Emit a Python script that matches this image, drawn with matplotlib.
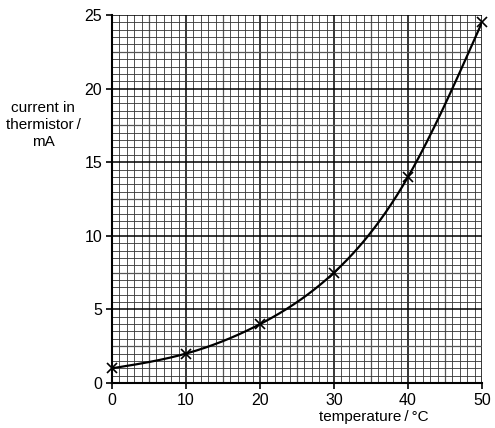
import numpy as np
import matplotlib
matplotlib.use("Agg")
import matplotlib.pyplot as plt

plt.rcParams['font.family'] = ['Liberation Sans', 'DejaVu Sans']

temperature = [0, 10, 20, 30, 40, 50]
current = [1.0, 2.0, 4.0, 7.5, 14.0, 24.5]
x_ticks = [0, 10, 20, 30, 40, 50]
y_ticks = [0, 5, 10, 15, 20, 25]


def natural_spline(xs, ys, xq):
    xs = np.asarray(xs, float); ys = np.asarray(ys, float)
    n = len(xs)
    h = np.diff(xs)
    A = np.zeros((n, n)); b = np.zeros(n)
    A[0, 0] = 1; A[-1, -1] = 1
    for i in range(1, n - 1):
        A[i, i - 1] = h[i - 1]
        A[i, i] = 2 * (h[i - 1] + h[i])
        A[i, i + 1] = h[i]
        b[i] = 3 * ((ys[i + 1] - ys[i]) / h[i] - (ys[i] - ys[i - 1]) / h[i - 1])
    c = np.linalg.solve(A, b)
    out = np.empty_like(xq)
    for k, xv in enumerate(xq):
        i = min(np.searchsorted(xs, xv, side='right') - 1, n - 2)
        i = max(i, 0)
        bb = (ys[i + 1] - ys[i]) / h[i] - h[i] * (2 * c[i] + c[i + 1]) / 3
        d = (c[i + 1] - c[i]) / (3 * h[i])
        dx = xv - xs[i]
        out[k] = ys[i] + bb * dx + c[i] * dx ** 2 + d * dx ** 3
    return out


fig = plt.figure(figsize=(4.95, 4.28), dpi=100)
ax = fig.add_axes([0.2263, 0.1051, 0.7474, 0.8599])
ax.set_xlim(0, 50)
ax.set_ylim(0, 25)

# grid
for xv in np.arange(0, 50.01, 1):
    if xv % 10 == 0:
        ax.axvline(xv, color='black', lw=1.1, zorder=1)
    elif xv % 5 == 0:
        ax.axvline(xv, color='#555555', lw=0.9, zorder=1)
    else:
        ax.axvline(xv, color='#333333', lw=0.6, zorder=1)
for yv in np.arange(0, 25.01, 0.5):
    if yv % 5 == 0:
        ax.axhline(yv, color='black', lw=1.1, zorder=1)
    elif yv % 2.5 == 0:
        ax.axhline(yv, color='#555555', lw=0.9, zorder=1)
    else:
        ax.axhline(yv, color='#333333', lw=0.6, zorder=1)

xq = np.linspace(0, 50, 400)
ax.plot(xq, natural_spline(temperature, current, xq), color='black', lw=1.6, zorder=3)
ax.plot(temperature, current, 'x', color='black', ms=7, mew=1.2, zorder=4, clip_on=False)

ax.set_xticks(x_ticks)
ax.set_yticks(y_ticks)
ax.tick_params(axis='both', labelsize=11.5, length=4, width=1.2, direction='out', pad=3)
for s in ['top', 'right']:
    ax.spines[s].set_visible(False)
for s in ['left', 'bottom']:
    ax.spines[s].set_linewidth(1.5)

fig.text(43 / 495, 1 - 125 / 428, 'current in\nthermistor\u2009/\nmA', ha='center', va='center',
         fontsize=11, linespacing=1.25)
fig.text(374 / 495, 1 - 417 / 428, 'temperature\u2009/\u2009°C', ha='center', va='center', fontsize=11)

fig.savefig('out.png', dpi=100)
